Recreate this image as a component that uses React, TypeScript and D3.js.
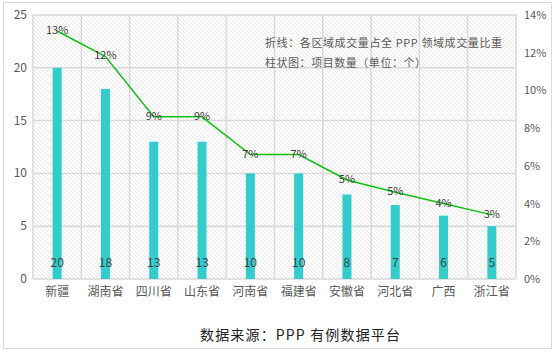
import React from 'react';
import * as d3 from 'd3';

const categories = ['新疆', '湖南省', '四川省', '山东省', '河南省', '福建省', '安徽省', '河北省', '广西', '浙江省'];
const projectCounts = [20, 18, 13, 13, 10, 10, 8, 7, 6, 5];
const shareValues = [0.1315, 0.118, 0.086, 0.086, 0.066, 0.066, 0.0525, 0.046, 0.04, 0.034];
const shareLabels = ['13%', '12%', '9%', '9%', '7%', '7%', '5%', '5%', '4%', '3%'];
const leftTicks = [0, 5, 10, 15, 20, 25];
const rightTicks = [0, 0.02, 0.04, 0.06, 0.08, 0.1, 0.12, 0.14];

const W = 555;
const H = 354;
const plot = { left: 33, right: 516, top: 15, bottom: 279 };
const font = '"Noto Sans CJK SC", "Noto Sans", sans-serif';

const App = () => {
  const x = d3.scaleBand().domain(categories).range([plot.left, plot.right]);
  const yLeft = d3.scaleLinear().domain([0, 25]).range([plot.bottom, plot.top]);
  const yRight = d3.scaleLinear().domain([0, 0.14]).range([plot.bottom, plot.top]);
  const barW = 9;
  const cx = (c: string) => (x(c) as number) + x.bandwidth() / 2;

  const line = d3.line<number>()
    .x((_, i) => cx(categories[i]))
    .y(d => yRight(d));

  return (
    <svg width={W} height={H} style={{ position: 'absolute', left: 0, top: 0 }}>
      <defs>
        <pattern id="hatch" patternUnits="userSpaceOnUse" width={4} height={4}>
          <path d="M-1,-1 L5,5 M-1,3 L1,5 M3,-1 L5,1" stroke="#dedede" strokeWidth={0.7} />
        </pattern>
      </defs>
      <rect x={0} y={0} width={W} height={H} fill="#fff" />
      <rect x={3.5} y={2.5} width={548} height={346} fill="none" stroke="#d9d9d9" />

      <rect x={plot.left} y={plot.top} width={plot.right - plot.left} height={plot.bottom - plot.top} fill="url(#hatch)" />

      {/* grid */}
      {leftTicks.map(t => (
        <line key={'h' + t} x1={plot.left} x2={plot.right} y1={yLeft(t)} y2={yLeft(t)} stroke="#d9d9d9" strokeWidth={1.5} />
      ))}
      {categories.map(c => (
        <line key={'v' + c} x1={x(c)} x2={x(c)} y1={plot.top} y2={plot.bottom} stroke="#d9d9d9" strokeWidth={1.5} />
      ))}
      <line x1={plot.right} x2={plot.right} y1={plot.top} y2={plot.bottom} stroke="#d9d9d9" strokeWidth={1.5} />

      {/* legend notes */}
      <text x={265} y={47} fontFamily={font} fontSize={11} fill="#595959" textLength={237} lengthAdjust="spacing">
        折线：各区域成交量占全 PPP 领域成交量比重
      </text>
      <text x={265} y={67} fontFamily={font} fontSize={11} fill="#595959" textLength={161} lengthAdjust="spacing">
        柱状图：项目数量（单位：个）
      </text>

      {/* bars */}
      {categories.map((c, i) => (
        <rect key={'b' + c} x={cx(c) - barW / 2} y={yLeft(projectCounts[i])} width={barW}
          height={plot.bottom - yLeft(projectCounts[i])} fill="#33cccc" />
      ))}
      {categories.map((c, i) => (
        <text key={'bl' + c} x={cx(c)} y={267} textAnchor="middle" fontFamily={font} fontSize={12} fill="#404040">
          {projectCounts[i]}
        </text>
      ))}

      {/* line */}
      <path d={line(shareValues) ?? ''} fill="none" stroke="#11c011" strokeWidth={1.5} />
      {categories.map((c, i) => (
        <text key={'ll' + c} x={cx(c)} y={yRight(shareValues[i]) + 3} textAnchor="middle" fontFamily={font} fontSize={11} fill="#404040">
          {shareLabels[i]}
        </text>
      ))}

      {/* axes labels */}
      {leftTicks.map(t => (
        <text key={'lt' + t} x={27} y={yLeft(t) + 4} textAnchor="end" fontFamily={font} fontSize={12} fill="#595959">{t}</text>
      ))}
      {rightTicks.map(t => (
        <text key={'rt' + t} x={524} y={yRight(t) + 4} fontFamily={font} fontSize={11} fill="#595959">{d3.format('.0%')(t)}</text>
      ))}
      {categories.map(c => (
        <text key={'cl' + c} x={cx(c)} y={296} textAnchor="middle" fontFamily={font} fontSize={12} fill="#595959">{c}</text>
      ))}

      <text x={200} y={340} fontFamily={font} fontSize={14} fill="#222" textLength={200} lengthAdjust="spacing">
        数据来源：PPP 有例数据平台
      </text>
    </svg>
  );
};

export default App;
